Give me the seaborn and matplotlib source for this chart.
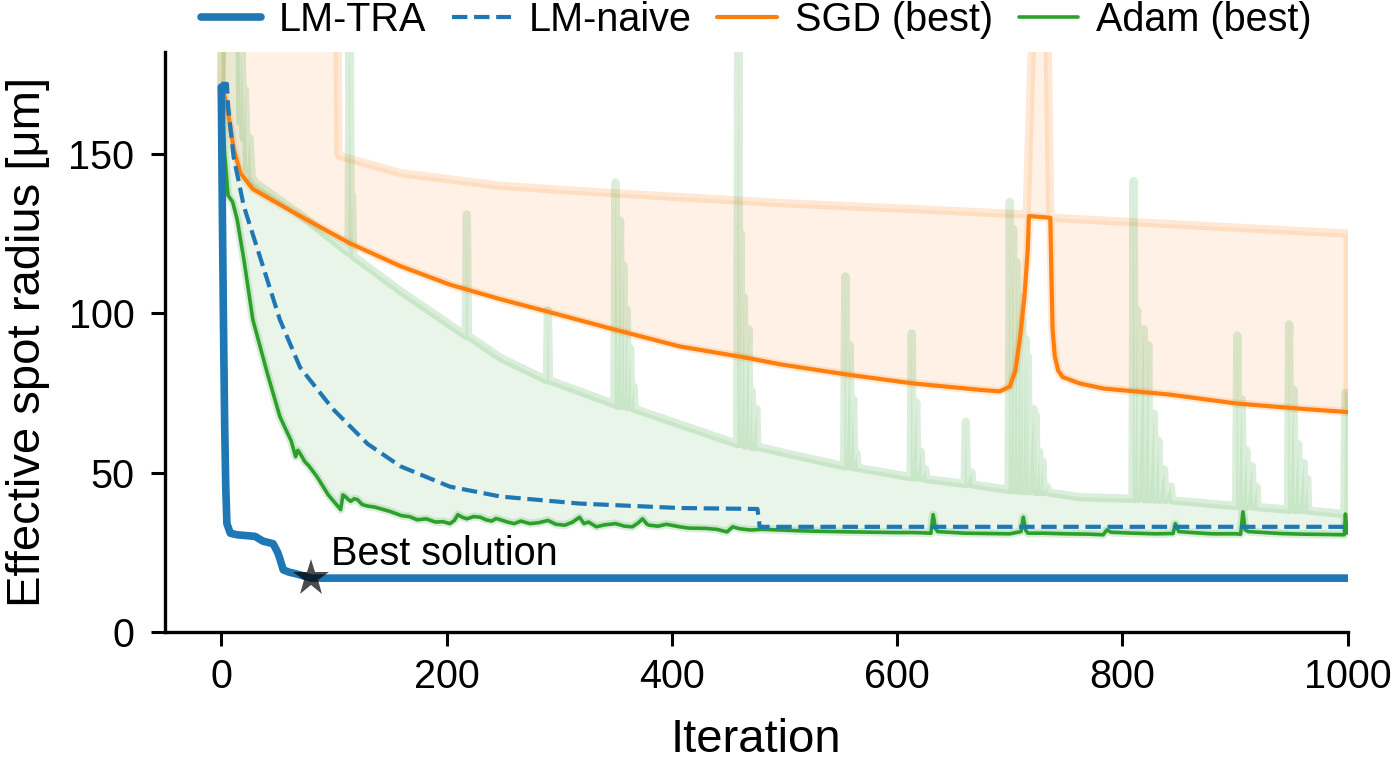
import numpy as np
import pandas as pd
import matplotlib
matplotlib.use("Agg")
import matplotlib.pyplot as plt
import seaborn as sns

# ---------------- data ----------------
lm_tra_x = [0, 1, 2, 3, 4, 5, 8, 14, 30, 37, 46, 50, 52, 55, 60, 67, 76, 80, 1000]
lm_tra_y = [171, 130, 95, 65, 45, 34, 31, 30.5, 30, 28.5, 27.7, 25, 23, 19.5, 18.8, 18.2, 17.3, 16.9, 16.9]

lm_naive_x = [0, 5, 6, 11, 20, 35, 52, 70, 99, 130, 159, 203, 248, 318, 407, 476, 477, 478, 1000]
lm_naive_y = [172, 172, 165, 149, 133.6, 117, 98, 83, 70, 59, 52, 45.6, 42.5, 40.3, 38.9, 38.6, 36, 33, 33]

sgd_best_x = [0, 3, 6, 11, 17, 28, 70, 114, 159, 203, 248, 289, 348, 407, 467, 496, 555, 614, 673,
              691, 700, 705, 709, 713, 716, 717, 736, 737, 738, 740, 743, 747, 762, 783, 842, 901, 960, 1000]
sgd_best_y = [171, 168, 163, 151.6, 144, 139, 130.5, 122, 114.8, 109, 104.4, 100.6, 95, 89.6, 86, 84, 80.8, 78, 76,
              75.5, 77, 82, 92, 105, 120, 130.5, 130, 111, 95, 86.5, 82, 80, 78, 76.4, 74.5, 71.7, 70, 69]

sgd_worst_x = [0, 1, 103, 104, 105, 159, 248, 348, 496, 614, 715, 721, 733, 736, 762, 1000]
sgd_worst_y = [171, 200, 200, 150, 149.4, 144, 140, 137.7, 134.6, 132.7, 131, 200, 200, 130, 129.5, 125]

adam_best_x = [0, 3, 6, 10, 14, 20, 28, 41, 52, 58, 62, 64, 66, 68, 70, 74, 78, 85, 95, 106, 108, 110, 113, 115,
               118, 121, 125, 130, 136, 144, 150, 160, 167, 174, 182, 190, 197, 203, 207, 210, 214, 218, 224,
               230, 235, 240, 244, 248, 254, 260, 266, 274, 282, 290, 297, 305, 312, 318, 322, 326, 333, 340,
               350, 358, 365, 370, 374, 378, 380, 388, 395, 401, 407, 415, 430, 440, 449, 454, 460, 470, 480,
               496, 510, 530, 545, 560, 580, 600, 615, 630, 632, 634, 636, 660, 680, 700, 710, 712, 714, 716,
               730, 750, 770, 783, 786, 790, 810, 830, 845, 847, 850, 870, 880, 900, 905, 907, 909, 912, 940,
               960, 980, 997, 998, 999, 1000]
adam_best_y = [171, 150, 137, 135, 129.6, 117, 98, 81, 67.6, 63, 60, 57.5, 55, 57, 56, 53.5, 52, 48.7, 43, 38.4, 43, 42.5,
               41.5, 41, 41.8, 41.5, 40, 39.5, 39.2, 38.4, 37.8, 36.5, 36.2, 35.2, 35.5, 34.5, 34.6, 34, 35, 36.8,
               36, 35.5, 36.2, 36, 35.2, 34.8, 35.6, 35.2, 34.5, 34, 34.8, 34, 34.3, 35, 33.8, 33.5, 34.5, 36, 34,
               34.5, 33, 33.6, 34, 33.2, 33, 34.2, 35.5, 33.8, 33.5, 33.2, 33.8, 33.4, 33, 32.6, 32.5, 32.2, 31.4,
               33, 32.4, 32, 32.2, 32, 31.8, 31.6, 31.5, 31.4, 31.3, 31.2, 31.2, 31, 36.8, 32.5, 31.5, 31, 30.9,
               30.8, 31.5, 36, 32, 31, 31, 30.8, 30.7, 30.5, 32, 31.3, 31, 30.8, 30.9, 34, 31.5, 31, 30.8, 30.8,
               30.7, 37.7, 32, 31.5, 30.9, 30.7, 30.6, 30.5, 37, 33, 31]

adam_worst_x = [0, 1, 16, 17, 18, 20, 21, 23, 25, 27, 30, 70,
                113, 114, 115, 116, 117, 159,
                217, 218, 219, 248,
                289, 290, 291,
                349, 350, 352, 354, 355, 357, 358, 360, 361, 363, 364, 366, 367, 400,
                458, 459, 460, 461, 462, 464, 465, 468, 469, 471, 472, 475, 476, 478, 496,
                553, 554, 555, 558, 559, 561, 562, 564, 565,
                612, 613, 614, 617, 618, 621, 622, 625, 626,
                660, 661, 662, 666, 667,
                699, 700, 701, 703, 704, 706, 707, 709, 710, 711, 712, 714, 715, 716, 717, 721, 722,
                723, 724, 726, 727, 729, 730, 733, 734, 762,
                809, 810, 811, 813, 814, 819, 820, 823, 824, 828, 829, 832, 833, 837, 838, 843, 844,
                901, 902, 903, 906, 907, 910, 911, 915, 916, 919, 920,
                947, 948, 949, 952, 953, 956, 957, 961, 962, 964, 965,
                997, 998, 1000]
adam_worst_y = [171, 200, 200, 160, 182, 155, 170, 145, 155, 143, 141, 131,
                119, 200, 119, 137, 118, 107,
                93, 131, 93, 86,
                79, 101, 79,
                71.5, 141, 71, 129, 71, 115, 71, 101, 70.5, 89, 70.5, 77, 70, 66,
                59, 200, 59, 125, 59, 105, 58.5, 95, 58.5, 75.5, 58, 70, 58, 58, 56.5,
                52, 111.6, 52, 90, 51.8, 73, 51.6, 56, 51.5,
                48.6, 93.7, 48.5, 72, 48.4, 56.6, 48.3, 51, 48,
                46.5, 66, 46.4, 50, 46.3,
                44.6, 135, 44.5, 126.5, 44.5, 116, 44.4, 105, 44.4, 98, 44.3, 92, 44.3, 86.5, 44.2, 70, 44.1,
                68, 44, 56.6, 44, 53.5, 43.9, 45.6, 43.8, 42.3,
                41.8, 141.5, 41.7, 101, 41.7, 95, 41.6, 90, 41.6, 68.5, 41.5, 60, 41.5, 51, 41.4, 45.6, 41.3,
                39.5, 93, 39.5, 73, 39.4, 57, 39.4, 52, 39.3, 45.6, 39.2,
                38.4, 96.5, 38.4, 76, 38.3, 59, 38.3, 53, 38.2, 48, 38.1,
                37, 75, 75]

best_iter = 80
best_value = 16.9

series_names = ["LM-TRA", "LM-naive", "SGD (best)", "Adam (best)"]
x_ticks = [0, 200, 400, 600, 800, 1000]
y_ticks = [0, 50, 100, 150]

# ---------------- style ----------------
sns.set_theme(style="ticks")
plt.rcParams['font.family'] = ['Liberation Sans', 'DejaVu Sans']
plt.rcParams.update({"text.color": "black", "axes.labelcolor": "black",
                     "xtick.color": "black", "ytick.color": "black",
                     "axes.edgecolor": "black"})

C_BLUE, C_ORANGE, C_GREEN = "#1f77b4", "#ff7f0e", "#2ca02c"
FS = 28.5

fig = plt.figure(figsize=(13.98, 7.68), dpi=100)
ax = fig.add_axes([0.118, 0.1771, 0.846, 0.7552])


def band(xw, yw, xb, yb, color):
    px = np.concatenate([xw, xb[::-1]])
    py = np.concatenate([yw, yb[::-1]])
    patches = ax.fill(px, py, zorder=1)
    for p in patches:
        p.set_facecolor(matplotlib.colors.to_rgba(color, 0.1))
        p.set_edgecolor(matplotlib.colors.to_rgba(color, 0.17))
        p.set_linewidth(6)
        p.set_joinstyle("round")


band(sgd_worst_x, sgd_worst_y, sgd_best_x, sgd_best_y, C_ORANGE)
band(adam_worst_x, adam_worst_y, adam_best_x, adam_best_y, C_GREEN)

# lines
sns.lineplot(x=sgd_best_x, y=sgd_best_y, ax=ax, color=C_ORANGE, lw=3, sort=False,
             estimator=None, label=series_names[2], zorder=3)
sns.lineplot(x=adam_best_x, y=adam_best_y, ax=ax, color=C_GREEN, lw=2.6, sort=False,
             estimator=None, label=series_names[3], zorder=3)
sns.lineplot(x=lm_naive_x, y=lm_naive_y, ax=ax, color=C_BLUE, lw=3, linestyle="--", sort=False,
             estimator=None, label=series_names[1], zorder=4)
sns.lineplot(x=lm_tra_x, y=lm_tra_y, ax=ax, color=C_BLUE, lw=5.5, sort=False,
             estimator=None, label=series_names[0], zorder=5)

# best solution marker
ax.plot([best_iter], [best_value], marker="*", ms=28, color="black", alpha=0.7,
        markeredgewidth=0, linestyle="none", zorder=10)
ax.text(best_iter + 17, best_value + 4.2, "Best solution", fontsize=FS, ha="left",
        va="baseline", zorder=11)

ax.set_xlim(-50, 1000)
ax.set_ylim(0, 182)
ax.set_xticks(x_ticks)
ax.set_yticks(y_ticks)
ax.tick_params(axis="both", labelsize=FS, length=10, width=2.2, color="black", labelcolor="black")
ax.tick_params(axis="x", pad=9)
ax.tick_params(axis="y", pad=12)
for s in ["left", "bottom"]:
    ax.spines[s].set_linewidth(2.4)
    ax.spines[s].set_color("black")
sns.despine(ax=ax)

ax.set_xlabel("Iteration", fontsize=34)
ax.set_ylabel("Effective spot radius [μm]", fontsize=34)
ax.xaxis.set_label_coords(0.5, -0.148)
ax.yaxis.set_label_coords(-0.097, 0.5)

# legend in the reference order
handles, labels = ax.get_legend_handles_labels()
order = [labels.index(n) for n in series_names]
leg = ax.legend([handles[i] for i in order], [labels[i] for i in order],
                loc="center", bbox_to_anchor=(0.5, 1.055), ncol=4, frameon=False,
                fontsize=FS, handlelength=1.5, handletextpad=0.45, columnspacing=0.65,
                borderaxespad=0)
for t in leg.get_texts():
    t.set_color("black")

fig.savefig("out.png", dpi=100)
